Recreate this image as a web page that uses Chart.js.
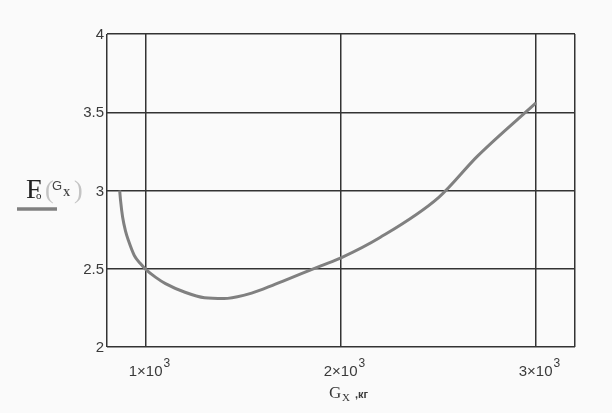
<!DOCTYPE html>
<html>
<head>
<meta charset="utf-8">
<script src="https://cdn.jsdelivr.net/npm/chart.js@4/dist/chart.umd.min.js"></script>
<style>
  html, body { margin: 0; padding: 0; background: #fafafa; }
  #wrap { width: 612px; height: 413px; }
</style>
</head>
<body>
<div id="wrap"><canvas id="c" width="612" height="413"></canvas></div>
<script>
// Load G_x (kg) and the resulting F_o(G_x)
const gx = [865, 870, 880, 895, 910, 940, 970, 1000, 1050, 1100, 1200, 1300, 1400, 1500, 1600, 1700, 1800, 1900, 2000, 2200, 2500, 2700, 3000];
const fo = [3.0, 2.93, 2.83, 2.74, 2.68, 2.585, 2.535, 2.495, 2.445, 2.405, 2.35, 2.315, 2.31, 2.33, 2.37, 2.42, 2.47, 2.52, 2.57, 2.70, 2.955, 3.22, 3.56];

const xTickValues = [1000, 2000, 3000];
const xTickMantissa = ['1', '2', '3'];
const yTickLabels = ['2', '2.5', '3', '3.5', '4'];
const xMin = 800, xMax = 3200;
const yMin = 2, yMax = 4;

const points = gx.map((x, i) => ({ x: x, y: fo[i] }));

// Tick labels (x with a raised exponent) and axis captions
const labelsPlugin = {
  id: 'labels',
  afterDraw(chart) {
    const ctx = chart.ctx;
    const xs = chart.scales.x, ys = chart.scales.y;
    ctx.save();
    ctx.fillStyle = '#3a3a3a';
    // y tick labels
    ctx.font = '15px "Liberation Sans", Arial, sans-serif';
    ctx.textAlign = 'right';
    ctx.textBaseline = 'middle';
    yTickLabels.forEach(t => {
      ctx.fillText(t, xs.left - 3, ys.getPixelForValue(parseFloat(t)) + 1);
    });
    // x tick labels: "n×10" with superscript 3
    const base = xs.bottom + 29;
    const mainFont = '15px "Liberation Sans", Arial, sans-serif';
    const supFont = '12px "Liberation Sans", Arial, sans-serif';
    xTickValues.forEach((v, i) => {
      const main = xTickMantissa[i] + '×10';
      ctx.font = mainFont;
      const wMain = ctx.measureText(main).width;
      ctx.font = supFont;
      const wSup = ctx.measureText('3').width;
      const left = xs.getPixelForValue(v) - (wMain + wSup) / 2 + 3;
      ctx.textAlign = 'left';
      ctx.textBaseline = 'alphabetic';
      ctx.font = mainFont;
      ctx.fillText(main, left, base);
      ctx.font = supFont;
      ctx.fillText('3', left + wMain + 1, base - 9);
    });
    // x axis caption "Gx ,кг"
    const cx = (xs.left + xs.right) / 2 + 12;
    const cy = xs.bottom + 51;
    ctx.font = '17px "Liberation Serif", "Times New Roman", serif';
    ctx.textAlign = 'left';
    ctx.fillText('G', cx - 24, cy);
    ctx.font = '11px "Liberation Serif", "Times New Roman", serif';
    ctx.fillText('X', cx - 11, cy + 3);
    ctx.font = 'bold 11px "Liberation Sans", Arial, sans-serif';
    ctx.fillText(',кг', cx + 2, cy);
    // y axis caption "F_o(Gx)" with line sample
    const ly = 198;
    ctx.fillStyle = '#222';
    ctx.font = '28px "Liberation Serif", "Times New Roman", serif';
    ctx.fillText('F', 26, ly);
    ctx.font = '11px "Liberation Serif", "Times New Roman", serif';
    ctx.fillText('o', 36, ly + 1);
    ctx.fillStyle = '#c4c4c4';
    ctx.font = '26px "Liberation Serif", "Times New Roman", serif';
    ctx.fillText('(', 45, ly);
    ctx.fillText(')', 74, ly);
    ctx.fillStyle = '#444';
    ctx.font = '13px "Liberation Sans", Arial, sans-serif';
    ctx.fillText('G', 52, ly - 8);
    ctx.font = 'bold 10px "Liberation Serif", "Times New Roman", serif';
    ctx.fillText('X', 63, ly - 2);
    ctx.strokeStyle = '#808080';
    ctx.lineWidth = 3.5;
    ctx.beginPath();
    ctx.moveTo(17, 209);
    ctx.lineTo(57, 209);
    ctx.stroke();
    ctx.restore();
  }
};

new Chart(document.getElementById('c'), {
  type: 'line',
  data: {
    datasets: [{
      data: points,
      borderColor: '#808080',
      borderWidth: 3,
      pointRadius: 0,
      cubicInterpolationMode: 'monotone',
      fill: false
    }]
  },
  options: {
    responsive: false,
    animation: false,
    layout: { padding: { left: 107, top: 34, right: 37, bottom: 66 } },
    plugins: { legend: { display: false }, tooltip: { enabled: false } },
    scales: {
      x: {
        type: 'linear',
        min: xMin, max: xMax,
        afterBuildTicks: s => { s.ticks = [xMin, ...xTickValues, xMax].map(v => ({ value: v })); },
        ticks: { display: false },
        grid: { color: '#333', lineWidth: 1.5, drawTicks: false },
        border: { display: false }
      },
      y: {
        type: 'linear',
        min: yMin, max: yMax,
        ticks: { display: false, stepSize: 0.5 },
        grid: { color: '#333', lineWidth: 1.5, drawTicks: false },
        border: { display: false }
      }
    }
  },
  plugins: [labelsPlugin]
});
</script>
</body>
</html>
